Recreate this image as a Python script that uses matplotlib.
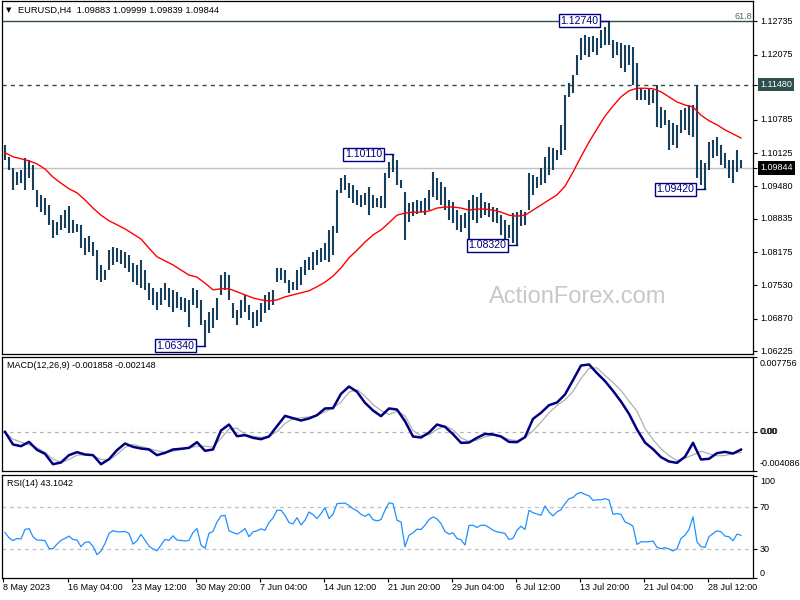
import matplotlib
matplotlib.use('Agg')
import matplotlib.pyplot as plt
from matplotlib.transforms import offset_copy
import numpy as np

# ---------------- data (each bar = two H4 candles) ----------------
highs = [1.1029, 1.1006, 1.0984, 1.0976, 1.0980, 1.1004, 1.1000, 1.0990, 1.0941, 1.0931,
         1.0925, 1.0911, 1.0882, 1.0878, 1.0891, 1.0901, 1.0909, 1.0882, 1.0874, 1.0872,
         1.0846, 1.0850, 1.0838, 1.0822, 1.0793, 1.0783, 1.0822, 1.0828, 1.0826, 1.0822,
         1.0819, 1.0813, 1.0797, 1.0793, 1.0803, 1.0783, 1.0757, 1.0748, 1.0740, 1.0748,
         1.0757, 1.0748, 1.0744, 1.0740, 1.0730, 1.0728, 1.0724, 1.0748, 1.0744, 1.0724,
         1.0685, 1.0700, 1.0708, 1.0728, 1.0773, 1.0779, 1.0773, 1.0718, 1.0704, 1.0724,
         1.0734, 1.0714, 1.0700, 1.0704, 1.0718, 1.0734, 1.0740, 1.0744, 1.0787, 1.0787,
         1.0783, 1.0763, 1.0759, 1.0783, 1.0789, 1.0803, 1.0809, 1.0819, 1.0822, 1.0826,
         1.0836, 1.0862, 1.0870, 1.0941, 1.0964, 1.0970, 1.0954, 1.0950, 1.0941, 1.0931,
         1.0935, 1.0947, 1.0931, 1.0925, 1.0929, 1.0974, 1.0996, 1.1011, 1.1000, 1.0960,
         1.0937, 1.0915, 1.0917, 1.0921, 1.0919, 1.0925, 1.0941, 1.0976, 1.0964, 1.0956,
         1.0947, 1.0921, 1.0917, 1.0901, 1.0891, 1.0895, 1.0921, 1.0931, 1.0927, 1.0935,
         1.0917, 1.0915, 1.0907, 1.0905, 1.0891, 1.0882, 1.0872, 1.0895, 1.0897, 1.0901,
         1.0897, 1.0974, 1.0970, 1.0966, 1.0984, 1.1006, 1.1025, 1.1023, 1.1019, 1.1069,
         1.1128, 1.1151, 1.1167, 1.1207, 1.1240, 1.1246, 1.1242, 1.1244, 1.1240, 1.1256,
         1.1262, 1.1274, 1.1236, 1.1232, 1.1230, 1.1226, 1.1226, 1.1222, 1.1191, 1.1141,
         1.1138, 1.1141, 1.1138, 1.1148, 1.1104, 1.1098, 1.1079, 1.1073, 1.1069, 1.1098,
         1.1102, 1.1108, 1.1108, 1.1148, 1.1000, 1.0994, 1.1035, 1.1039, 1.1045, 1.1029,
         1.1014, 1.1000, 1.1000, 1.1019, 1.1000]
lows = [1.1000, 1.0980, 1.0941, 1.0950, 1.0954, 1.0941, 1.0964, 1.0941, 1.0907, 1.0897,
        1.0891, 1.0872, 1.0846, 1.0852, 1.0862, 1.0866, 1.0856, 1.0856, 1.0858, 1.0826,
        1.0813, 1.0819, 1.0811, 1.0763, 1.0759, 1.0763, 1.0783, 1.0793, 1.0799, 1.0795,
        1.0787, 1.0779, 1.0759, 1.0753, 1.0748, 1.0744, 1.0724, 1.0714, 1.0704, 1.0714,
        1.0724, 1.0710, 1.0700, 1.0708, 1.0704, 1.0700, 1.0671, 1.0714, 1.0708, 1.0675,
        1.0634, 1.0659, 1.0669, 1.0685, 1.0734, 1.0744, 1.0724, 1.0688, 1.0675, 1.0688,
        1.0700, 1.0685, 1.0669, 1.0673, 1.0681, 1.0698, 1.0704, 1.0714, 1.0759, 1.0763,
        1.0757, 1.0738, 1.0744, 1.0744, 1.0753, 1.0773, 1.0783, 1.0783, 1.0793, 1.0799,
        1.0803, 1.0799, 1.0813, 1.0856, 1.0935, 1.0941, 1.0925, 1.0915, 1.0911, 1.0907,
        1.0911, 1.0891, 1.0905, 1.0907, 1.0905, 1.0905, 1.0964, 1.0976, 1.0950, 1.0945,
        1.0842, 1.0878, 1.0889, 1.0893, 1.0897, 1.0891, 1.0901, 1.0927, 1.0921, 1.0911,
        1.0901, 1.0882, 1.0876, 1.0862, 1.0858, 1.0866, 1.0834, 1.0882, 1.0876, 1.0885,
        1.0891, 1.0887, 1.0878, 1.0876, 1.0852, 1.0842, 1.0846, 1.0836, 1.0832, 1.0870,
        1.0872, 1.0901, 1.0931, 1.0945, 1.0950, 1.0954, 1.0970, 1.0980, 1.1000, 1.1010,
        1.1019, 1.1124, 1.1132, 1.1167, 1.1197, 1.1207, 1.1203, 1.1212, 1.1207, 1.1220,
        1.1226, 1.1226, 1.1201, 1.1207, 1.1181, 1.1173, 1.1187, 1.1147, 1.1118, 1.1118,
        1.1118, 1.1108, 1.1112, 1.1065, 1.1063, 1.1069, 1.1019, 1.1029, 1.1023, 1.1053,
        1.1059, 1.1049, 1.1045, 1.0964, 1.0950, 1.0942, 1.0980, 1.1004, 1.1008, 1.0990,
        1.0984, 1.0964, 1.0954, 1.0976, 1.0984]

# moving average, sampled every second bar
ma_line = [1.1014, 1.1006, 1.1002, 1.0998, 1.0992, 1.0982, 1.0966, 1.0954, 1.0943, 1.0935,
           1.0921, 1.0905, 1.0891, 1.0880, 1.0872, 1.0864, 1.0854, 1.0844, 1.0826, 1.0809,
           1.0801, 1.0793, 1.0783, 1.0773, 1.0769, 1.0757, 1.0744, 1.0746, 1.0746, 1.0740,
           1.0734, 1.0728, 1.0724, 1.0722, 1.0724, 1.0730, 1.0734, 1.0738, 1.0742, 1.0750,
           1.0759, 1.0771, 1.0787, 1.0807, 1.0822, 1.0838, 1.0852, 1.0862, 1.0876, 1.0891,
           1.0895, 1.0897, 1.0897, 1.0899, 1.0905, 1.0907, 1.0907, 1.0905, 1.0901, 1.0903,
           1.0903, 1.0901, 1.0897, 1.0891, 1.0889, 1.0891, 1.0901, 1.0911, 1.0921, 1.0931,
           1.0948, 1.0976, 1.1006, 1.1035, 1.1061, 1.1086, 1.1106, 1.1124, 1.1136, 1.1141,
           1.1141, 1.1140, 1.1134, 1.1124, 1.1114, 1.1108, 1.1104, 1.1088, 1.1077, 1.1069,
           1.1059, 1.1051, 1.1043]

macd_main = [-0.00002, -0.00133, -0.00151, -0.00106, -0.00189, -0.00230, -0.00338, -0.00320, -0.00244, -0.00213,
             -0.00237, -0.00244, -0.00338, -0.00286, -0.00192, -0.00123, -0.00158, -0.00175, -0.00185, -0.00244,
             -0.00220, -0.00185, -0.00178, -0.00168, -0.00109, -0.00199, -0.00185, 0.00012, 0.00074, -0.00047,
             -0.00036, -0.00064, -0.00078, -0.00050, 0.00057, 0.00164, 0.00140, 0.00116, 0.00137, 0.00171,
             0.00241, 0.00244, 0.00393, 0.00469, 0.00414, 0.00300, 0.00220, 0.00161, 0.00241, 0.00230,
             0.00109, -0.00050, -0.00061, -0.00009, 0.00074, 0.00050, -0.00026, -0.00116, -0.00113, -0.00064,
             -0.00023, -0.00029, -0.00050, -0.00106, -0.00109, -0.00057, 0.00133, 0.00196, 0.00275, 0.00303,
             0.00386, 0.00535, 0.00687, 0.00698, 0.00608, 0.00525, 0.00424, 0.00313, 0.00185, 0.00023,
             -0.00113, -0.00182, -0.00265, -0.00310, -0.00324, -0.00261, -0.00116, -0.00289, -0.00282, -0.00223,
             -0.00210, -0.00227, -0.00186]
macd_signal = [-0.00009, -0.00078, -0.00109, -0.00137, -0.00168, -0.00216, -0.00286, -0.00320, -0.00289, -0.00244,
               -0.00241, -0.00248, -0.00289, -0.00296, -0.00237, -0.00164, -0.00133, -0.00154, -0.00175, -0.00199,
               -0.00216, -0.00203, -0.00185, -0.00171, -0.00151, -0.00151, -0.00161, -0.00071, 0.00029, 0.00036,
               -0.00029, -0.00047, -0.00061, -0.00050, 0.00002, 0.00085, 0.00137, 0.00144, 0.00154, 0.00168,
               0.00206, 0.00248, 0.00306, 0.00410, 0.00438, 0.00369, 0.00282, 0.00220, 0.00178, 0.00213,
               0.00164, 0.00012, -0.00043, -0.00033, 0.00023, 0.00061, 0.00019, -0.00064, -0.00102, -0.00088,
               -0.00054, -0.00036, -0.00050, -0.00081, -0.00095, -0.00064, 0.00009, 0.00099, 0.00196, 0.00272,
               0.00331, 0.00417, 0.00552, 0.00656, 0.00663, 0.00584, 0.00511, 0.00428, 0.00317, 0.00213,
               0.00033, -0.00081, -0.00178, -0.00248, -0.00300, -0.00275, -0.00241, -0.00203, -0.00230, -0.00251,
               -0.00248, -0.00230, -0.00215]

rsi14 = [45.7, 40.7, 37.9, 40.1, 39.5, 48.6, 49.5, 41.7, 38.5, 38.5,
         37.9, 30.6, 30.3, 34.7, 38.2, 40.1, 42.3, 39.1, 38.5, 32.2,
         36.3, 36.9, 32.5, 24.6, 28.1, 35.3, 44.8, 47.6, 46.4, 46.4,
         46.7, 44.8, 34.7, 37.9, 43.9, 38.5, 32.8, 30.0, 28.4, 33.8,
         39.1, 38.2, 42.6, 38.5, 38.2, 37.6, 38.2, 45.7, 49.5, 33.8,
         30.6, 45.1, 46.7, 55.8, 61.5, 62.1, 47.3, 45.7, 44.2, 46.4,
         49.5, 41.7, 46.4, 47.3, 49.2, 47.9, 55.2, 59.6, 66.9, 66.9,
         62.1, 55.2, 53.9, 59.9, 53.0, 57.4, 65.3, 62.8, 59.0, 63.7,
         69.4, 59.0, 63.1, 73.2, 73.5, 73.8, 71.3, 68.4, 66.5, 63.1,
         61.2, 63.4, 58.0, 56.8, 58.0, 66.9, 74.1, 73.2, 57.4, 55.8,
         32.2, 43.2, 45.4, 48.9, 48.6, 52.7, 58.0, 60.6, 58.7, 54.2,
         46.7, 44.2, 45.4, 40.1, 38.8, 33.8, 52.4, 52.7, 50.5, 52.7,
         52.7, 50.5, 47.9, 46.4, 45.7, 44.8, 39.1, 40.1, 47.9, 51.7,
         48.6, 66.9, 64.6, 63.4, 62.1, 71.0, 65.3, 61.5, 65.3, 67.5,
         73.2, 77.9, 79.1, 82.6, 83.9, 82.0, 80.7, 76.3, 76.9, 76.9,
         77.9, 76.9, 63.1, 63.7, 63.1, 55.8, 54.2, 51.7, 34.4, 36.9,
         36.9, 36.9, 37.6, 31.6, 30.3, 31.3, 30.0, 28.1, 30.3, 40.1,
         43.2, 48.6, 60.6, 36.9, 32.2, 31.6, 41.7, 44.8, 47.3, 46.4,
         42.3, 41.7, 37.9, 44.2, 43.1]

date_labels = ["8 May 2023", "16 May 04:00", "23 May 12:00", "30 May 20:00", "7 Jun 04:00",
               "14 Jun 12:00", "21 Jun 20:00", "29 Jun 04:00", "6 Jul 12:00", "13 Jul 20:00",
               "21 Jul 04:00", "28 Jul 12:00"]
date_tick_pos = [-0.5, 15.75, 31.75, 47.75, 63.75, 79.75, 95.75, 111.75, 127.75, 143.75, 159.75, 175.75]

price_ticks = [1.12735, 1.12075, 1.10785, 1.10125, 1.09480, 1.08835, 1.08175, 1.07530, 1.06870, 1.06225]
swing_values = [1.0634, 1.1011, 1.1274, 1.0832, 1.0942]
swing_bars = [50, 97, 151, 128, 175]
fib_level = 1.1274
resistance = 1.1148
last_price = 1.09844
title_text = "EURUSD,H4  1.09883 1.09999 1.09839 1.09844"
macd_text = "MACD(12,26,9) -0.001858 -0.002148"
rsi_text = "RSI(14) 43.1042"

# ---------------- figure ----------------
plt.rcParams['font.family'] = ['Liberation Sans', 'DejaVu Sans']
FS = 6.5
fig = plt.figure(figsize=(8, 6), dpi=100)
fig.patch.set_facecolor('white')


def rect(x0, y0, x1, y1):
    return [x0 / 800, 1 - y1 / 600, (x1 - x0) / 800, (y1 - y0) / 600]


ax1 = fig.add_axes(rect(2, 1, 753, 354))
ax2 = fig.add_axes(rect(2, 357, 753, 471))
ax3 = fig.add_axes(rect(2, 475, 753, 578))

xb = np.arange(len(highs))
xm = np.arange(len(ma_line)) * 2
xr = np.arange(len(rsi14))

for ax in (ax1, ax2, ax3):
    ax.set_xlim(-0.75, 187)
    ax.set_facecolor('white')
    for s in ax.spines.values():
        s.set_color('black')
        s.set_linewidth(0.9)
    ax.yaxis.tick_right()
    ax.tick_params(axis='y', length=3, width=0.8, labelright=False, labelleft=False, color='black')
    ax.tick_params(axis='x', length=0, labelbottom=False)

# main panel
ax1.set_ylim(1.06175, 1.13129)
ax1.axhline(last_price, color='#C0C0C0', lw=1.0, zorder=1)
ax1.axhline(fib_level, color='#2F4F4F', lw=1.0, zorder=1)
ax1.axhline(resistance, color='#2F4F4F', lw=1.0, ls=(0, (3, 3)), zorder=1)
ax1.vlines(xb, lows, highs, color='#173F5C', lw=1.5, zorder=3)
ax1.plot(xm, ma_line, color='#FF0000', lw=1.0, zorder=4)
ax1.set_yticks(price_ticks + [resistance, last_price])

ytr = offset_copy(ax1.get_yaxis_transform(), fig=fig, x=7, y=0, units='dots')
for v in price_ticks:
    ax1.text(1.0, v, f"{v:.5f}", transform=ytr, fontsize=FS, va='center', ha='left', clip_on=False)
ax1.text(1.0, resistance, f"{resistance:.5f}", transform=ytr, fontsize=FS, va='center', ha='left',
         color='white', bbox=dict(boxstyle='square,pad=0.25', fc='#2F4F4F', ec='none'), zorder=10)
ax1.text(1.0, last_price, f"{last_price:.5f}", transform=ytr, fontsize=FS, va='center', ha='left',
         color='white', bbox=dict(boxstyle='square,pad=0.25', fc='black', ec='none'), zorder=10)

ax1.text(186.7, fib_level, "61.8", fontsize=FS, color='#56606A', ha='right', va='bottom')

for v, kb in zip(swing_values, swing_bars):
    ax1.plot([kb - 2.5, kb], [v, v], color='#000080', lw=1.0, zorder=5)
    ax1.text(kb - 2.7, v, f"{v:.5f}", fontsize=7.6, color='#000080', ha='right', va='center', zorder=6,
             bbox=dict(boxstyle='square,pad=0.15', fc='white', ec='#000080', lw=1.0))

fig.text(578 / 800, 1 - 297 / 600, "ActionForex.com", fontsize=17, color='#C8C8C8',
         ha='center', va='center')
fig.text(6 / 800, 1 - 10 / 600, "\u25BC", fontsize=5, family='DejaVu Sans', va='center')
fig.text(18 / 800, 1 - 10 / 600, title_text, fontsize=FS + 0.2, va='center')

# MACD panel
ax2.set_ylim(-0.004086, 0.007756)
ax2.axhline(0, color='#B4B4B4', lw=0.9, ls=(0, (3, 3)), zorder=1)
ax2.plot(xm, macd_signal, color='#B0B0B0', lw=0.9, zorder=2)
ax2.plot(xm, macd_main, color='#000080', lw=1.8, zorder=3)
ax2.set_yticks([-0.004086, 0.0, 0.007756])
t2 = ax2.get_yaxis_transform()
ax2.text(1.0, 0.007756, "0.007756", transform=offset_copy(t2, fig=fig, x=7, y=-6, units='dots'),
         fontsize=FS, va='center', ha='left')
for dx in (7, 7.6):
    ax2.text(1.0, 0.0, "0.00", transform=offset_copy(t2, fig=fig, x=dx, y=0, units='dots'),
             fontsize=FS, va='center', ha='left')
ax2.text(1.0, -0.004086, "-0.004086", transform=offset_copy(t2, fig=fig, x=7, y=7, units='dots'),
         fontsize=FS, va='center', ha='left')
fig.text(7 / 800, 1 - 366 / 600, macd_text, fontsize=FS, va='center')

# RSI panel
ax3.set_ylim(2.4, 100.5)
ax3.axhline(70, color='#C0C0C0', lw=0.9, ls=(0, (3, 3)), zorder=1)
ax3.axhline(30, color='#C0C0C0', lw=0.9, ls=(0, (3, 3)), zorder=1)
ax3.plot(xr, rsi14, color='#1E90FF', lw=0.9, zorder=3)
ax3.set_yticks([100, 70, 30, 2.4])
t3 = ax3.get_yaxis_transform()
ax3.text(1.0, 100.5, "100", transform=offset_copy(t3, fig=fig, x=7, y=-7, units='dots'),
         fontsize=FS, va='center', ha='left')
ax3.text(1.0, 70, "70", transform=offset_copy(t3, fig=fig, x=7, y=0, units='dots'),
         fontsize=FS, va='center', ha='left')
ax3.text(1.0, 30, "30", transform=offset_copy(t3, fig=fig, x=7, y=0, units='dots'),
         fontsize=FS, va='center', ha='left')
ax3.text(1.0, 2.4, "0", transform=offset_copy(t3, fig=fig, x=7, y=5, units='dots'),
         fontsize=FS, va='center', ha='left')
fig.text(7 / 800, 1 - 484 / 600, rsi_text, fontsize=FS, va='center')

ax3.set_xticks(date_tick_pos)
ax3.tick_params(axis='x', length=3, width=0.8, direction='out', labelbottom=False)
tx = offset_copy(ax3.get_xaxis_transform(), fig=fig, x=0, y=-10, units='dots')
for p, lab in zip(date_tick_pos, date_labels):
    ax3.text(p, 0, lab, transform=tx, fontsize=FS, ha='left', va='center', clip_on=False)

fig.savefig("out.png", dpi=100)
